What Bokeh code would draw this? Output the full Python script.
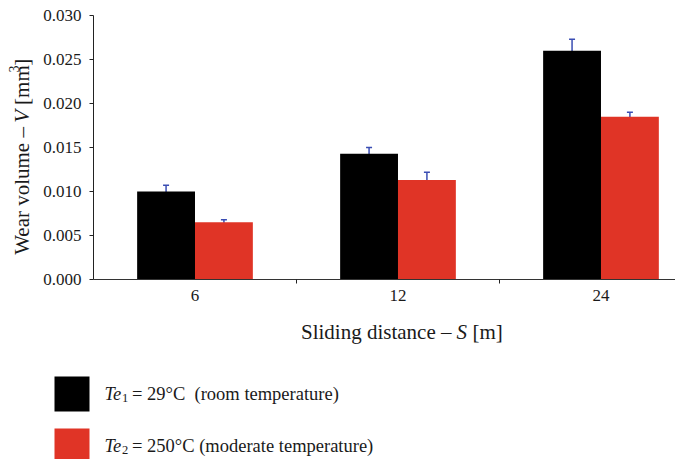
import math
from bokeh.plotting import figure
from bokeh.layouts import row, column
from bokeh.models import (ColumnDataSource, Range1d, FixedTicker, NumeralTickFormatter,
                          Whisker, TeeHead)
from bokeh.core.properties import value
from bokeh.embed import file_html
from bokeh.resources import INLINE

# ---- data ----
categories = ["6", "12", "24"]
wear_te1 = [0.0100, 0.0143, 0.0260]      # Te1 = 29 °C (room temperature)
wear_te2 = [0.0065, 0.0113, 0.0185]      # Te2 = 250 °C (moderate temperature)
err_te1 = [0.0007, 0.0007, 0.0013]
err_te2 = [0.0003, 0.0009, 0.0005]
y_ticks = [0.000, 0.005, 0.010, 0.015, 0.020, 0.025, 0.030]

BLACK = "#000000"
RED = "#E03426"
BLUE = "#3A4DB3"
FONT = "Liberation Serif"
TXT = "#1A1A1A"

TOP_H = 310          # height of the chart row
W = 675
H = 459
DY = 7               # correction of the rendered alphabetic baseline

idx = list(range(len(categories)))
bw = 0.285
x1 = [i - bw / 2 for i in idx]
x2 = [i + bw / 2 for i in idx]

# ---------------- main chart ----------------
p = figure(width=W - 40, height=TOP_H, frame_width=583, frame_height=264,
           min_border_left=52, min_border_right=0, min_border_top=15, min_border_bottom=31,
           x_range=Range1d(-0.5, 2.372), y_range=Range1d(0, 0.030),
           output_backend="svg", toolbar_location=None, tools="")
p.outline_line_color = None
p.grid.visible = False

s1 = ColumnDataSource(dict(x=x1, top=wear_te1,
                           upper=[v + e for v, e in zip(wear_te1, err_te1)],
                           lower=[v - e for v, e in zip(wear_te1, err_te1)]))
s2 = ColumnDataSource(dict(x=x2, top=wear_te2,
                           upper=[v + e for v, e in zip(wear_te2, err_te2)],
                           lower=[v - e for v, e in zip(wear_te2, err_te2)]))
p.vbar(x="x", top="top", width=bw, source=s1, fill_color=BLACK, line_color=None)
p.vbar(x="x", top="top", width=bw, source=s2, fill_color=RED, line_color=None)

for s in (s1, s2):
    p.add_layout(Whisker(source=s, base="x", upper="upper", lower="lower",
                         line_color=BLUE, line_width=1.5,
                         upper_head=TeeHead(size=6, line_color=BLUE, line_width=1.5),
                         lower_head=TeeHead(size=6, line_color=BLUE, line_width=1.5)))

xa = p.xaxis[0]
xa.ticker = FixedTicker(ticks=idx, minor_ticks=[i + 0.5 for i in idx[:-1]])
xa.major_label_overrides = {i: c for i, c in zip(idx, categories)}
xa.major_tick_line_color = None
xa.major_tick_out = 4
xa.major_label_standoff = 6
xa.minor_tick_line_color = "#222222"
xa.minor_tick_in = 0
xa.minor_tick_out = 4
xa.axis_line_color = "#333333"
xa.major_label_text_font = FONT
xa.major_label_text_font_size = "17px"
xa.major_label_text_color = TXT

ya = p.yaxis[0]
ya.ticker = FixedTicker(ticks=y_ticks, minor_ticks=[])
ya.formatter = NumeralTickFormatter(format="0.000")
ya.major_tick_in = 0
ya.major_tick_out = 4
ya.major_tick_line_color = "#222222"
ya.axis_line_color = "#222222"
ya.major_label_standoff = 8
ya.major_label_text_font = FONT
ya.major_label_text_font_size = "17px"
ya.major_label_text_color = TXT


def plain_fig(width, height):
    f = figure(width=width, height=height, x_range=Range1d(0, width), y_range=Range1d(0, height),
               x_axis_type=None, y_axis_type=None, min_border=0,
               output_backend="svg", toolbar_location=None, tools="")
    f.outline_line_color = None
    f.grid.visible = False
    return f


def txt(f, x, y, s, size="21px", style="normal", align="left", angle=0.0):
    f.text(x=[x], y=[y], text=[s], text_font=value(FONT), text_font_size=size,
           text_font_style=style, text_align=align, text_baseline="alphabetic",
           text_color=TXT, angle=angle)


# ---------------- y-axis title (rotated) ----------------
yl = plain_fig(40, TOP_H)
bx = 28 - DY                 # baseline x (pixels)
P = TOP_H - 131              # end of "Wear volume –"
rot = math.pi / 2
txt(yl, bx, P, "Wear volume \u2013", align="right", angle=rot)
txt(yl, bx, P + 5, "V", style="italic", angle=rot)
txt(yl, bx, P + 26, "[mm", angle=rot)
txt(yl, bx - 8, P + 64, "3", size="14px", angle=rot)
txt(yl, bx, P + 72, "]", angle=rot)

# ---------------- x-axis title + legend ----------------
BH = H - TOP_H
bt = plain_fig(W, BH)


def by(pix):
    return H - pix + DY


Q = 451
txt(bt, Q, by(338), "Sliding distance \u2013", align="right")
txt(bt, Q + 5, by(338), "S", style="italic")
txt(bt, Q + 21, by(338), "[m]")

bt.quad(left=[54, 54], right=[89, 89], top=[H - 376, H - 428], bottom=[H - 411, H - 463],
        fill_color=[BLACK, RED], line_color=None)

for base, sub, rest in ((400.5, "1", "= 29\u00b0C\u00a0 (room temperature)"),
                        (452.5, "2", "= 250\u00b0C (moderate temperature)")):
    txt(bt, 104, by(base), "Te", size="18.5px", style="italic")
    txt(bt, 121.5, by(base + 3.5), sub, size="12.5px")
    txt(bt, 131.5, by(base), rest, size="18.5px")

layout = column(row(yl, p, spacing=0), bt, spacing=0)
open("out.html", "w").write(file_html(layout, INLINE))
